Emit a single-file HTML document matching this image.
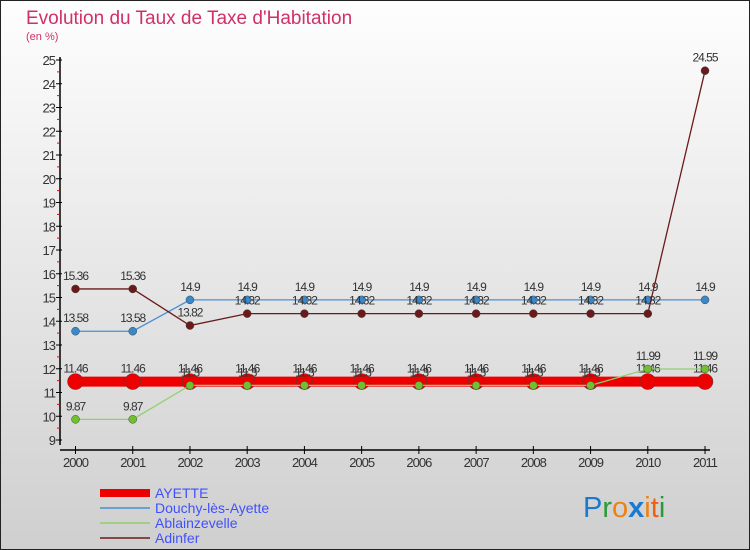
<!DOCTYPE html>
<html><head><meta charset="utf-8"><style>
body{margin:0;}
#c{width:750px;height:550px;position:relative;overflow:hidden;font-family:"Liberation Sans",sans-serif;}
</style></head><body>
<div id="c">
<svg width="750" height="550" xmlns="http://www.w3.org/2000/svg">
<defs><linearGradient id="bg" x1="0" y1="0" x2="0" y2="1"><stop offset="0" stop-color="#fefefe"/><stop offset="1" stop-color="#cfcfcf"/></linearGradient></defs>
<rect x="0.5" y="0.5" width="749" height="549" fill="url(#bg)" stroke="#222"/>
<text x="26" y="24" font-size="19" fill="#d0306a">Evolution du Taux de Taxe d'Habitation</text>
<text x="26" y="40" font-size="11" fill="#d0306a">(en %)</text>
<g id="axes"></g><g id="series"></g><g id="legend"></g>
<g font-size="29" font-family="Liberation Sans,sans-serif">
<text x="583" y="517"><tspan fill="#1a7ad0">P</tspan><tspan fill="#2a9a3a">r</tspan><tspan fill="#f08010">o</tspan><tspan fill="#1a7ad0" font-weight="bold">x</tspan><tspan fill="#f08010">i</tspan><tspan fill="#f06010">t</tspan><tspan fill="#2a9a3a">i</tspan></text>
</g>
</svg></div>
<script>
const years=[2000,2001,2002,2003,2004,2005,2006,2007,2008,2009,2010,2011];
const yTicks=[9,10,11,12,13,14,15,16,17,18,19,20,21,22,23,24,25];
const ayette=[11.46,11.46,11.46,11.46,11.46,11.46,11.46,11.46,11.46,11.46,11.46,11.46];
const douchy=[13.58,13.58,14.9,14.9,14.9,14.9,14.9,14.9,14.9,14.9,14.9,14.9];
const ablain=[9.87,9.87,11.3,11.3,11.3,11.3,11.3,11.3,11.3,11.3,11.99,11.99];
const adinfer=[15.36,15.36,13.82,14.32,14.32,14.32,14.32,14.32,14.32,14.32,14.32,24.55];
const names=["AYETTE","Douchy-lès-Ayette","Ablainzevelle","Adinfer"];
const NS="http://www.w3.org/2000/svg";
const X=i=>75.5+i*57.23, Y=v=>440-(v-9)*23.75;
function mk(p,t,a){const e=document.createElementNS(NS,t);for(const k in a)e.setAttribute(k,a[k]);p.appendChild(e);return e;}
const ax=document.getElementById('axes');
let l=mk(ax,'line',{x1:60,y1:57,x2:60,y2:445,stroke:'#000','stroke-width':1.5});


l=mk(ax,'line',{x1:60,y1:450,x2:710,y2:450,stroke:'#000','stroke-width':1.5});


yTicks.forEach(v=>{
 mk(ax,'line',{x1:56,y1:Y(v),x2:62,y2:Y(v),stroke:'#000'});
 if(v<25)mk(ax,'line',{x1:57,y1:Y(v+0.5),x2:60,y2:Y(v+0.5),stroke:'#e00'});
 const t=mk(ax,'text',{x:55,y:Y(v)+5,'font-size':13,'text-anchor':'end',fill:'#333','letter-spacing':'-1'});
 t.textContent=v;
 
 
});
years.forEach((yr,i)=>{
 mk(ax,'line',{x1:X(i),y1:446,x2:X(i),y2:454,stroke:'#000'});
 const t=mk(ax,'text',{x:X(i),y:467,'font-size':13,'text-anchor':'middle',fill:'#333','letter-spacing':'-1'});
 t.textContent=yr;
 
 
});
const sg=document.getElementById('series');
const series=[[douchy,'#4a90d0',1.3,4,'#3a88c8','douchy'],[adinfer,'#6a1a1a',1.3,4,'#6a1a1a','adinfer'],[ayette,'#ee0000',10,8,'#ee0000','ayette'],[ablain,'#90d070',1.3,4,'#70c030','ablainzevelle']];
series.forEach(([d,c,w,r,fc,n])=>{
 const p=mk(sg,'polyline',{points:d.map((v,i)=>X(i)+','+Y(v)).join(' '),fill:'none',stroke:c,'stroke-width':w});
 
 
 d.forEach((v,i)=>{
  const ci=mk(sg,'circle',{cx:X(i),cy:Y(v),r:r,fill:fc,stroke:'#444','stroke-width':0.5});
  
  
  const t=mk(sg,'text',{x:X(i),y:Y(v)-9,'font-size':12,'text-anchor':'middle',fill:'#333','letter-spacing':'-1'});
  t.textContent=v;
  
  
 });
});
const lg=document.getElementById('legend');
const lc=['#ee0000','#4a90d0','#90d070','#6a1a1a'],lw=[8,1.5,1.5,1.5];
names.forEach((n,i)=>{
 const y=493+i*15;
 mk(lg,'line',{x1:100,y1:y,x2:150,y2:y,stroke:lc[i],'stroke-width':lw[i]});
 const t=mk(lg,'text',{x:155,y:y+5,'font-size':14,fill:'#4050ff'});
 t.textContent=n;
 
 
});
</script>
</body></html>
